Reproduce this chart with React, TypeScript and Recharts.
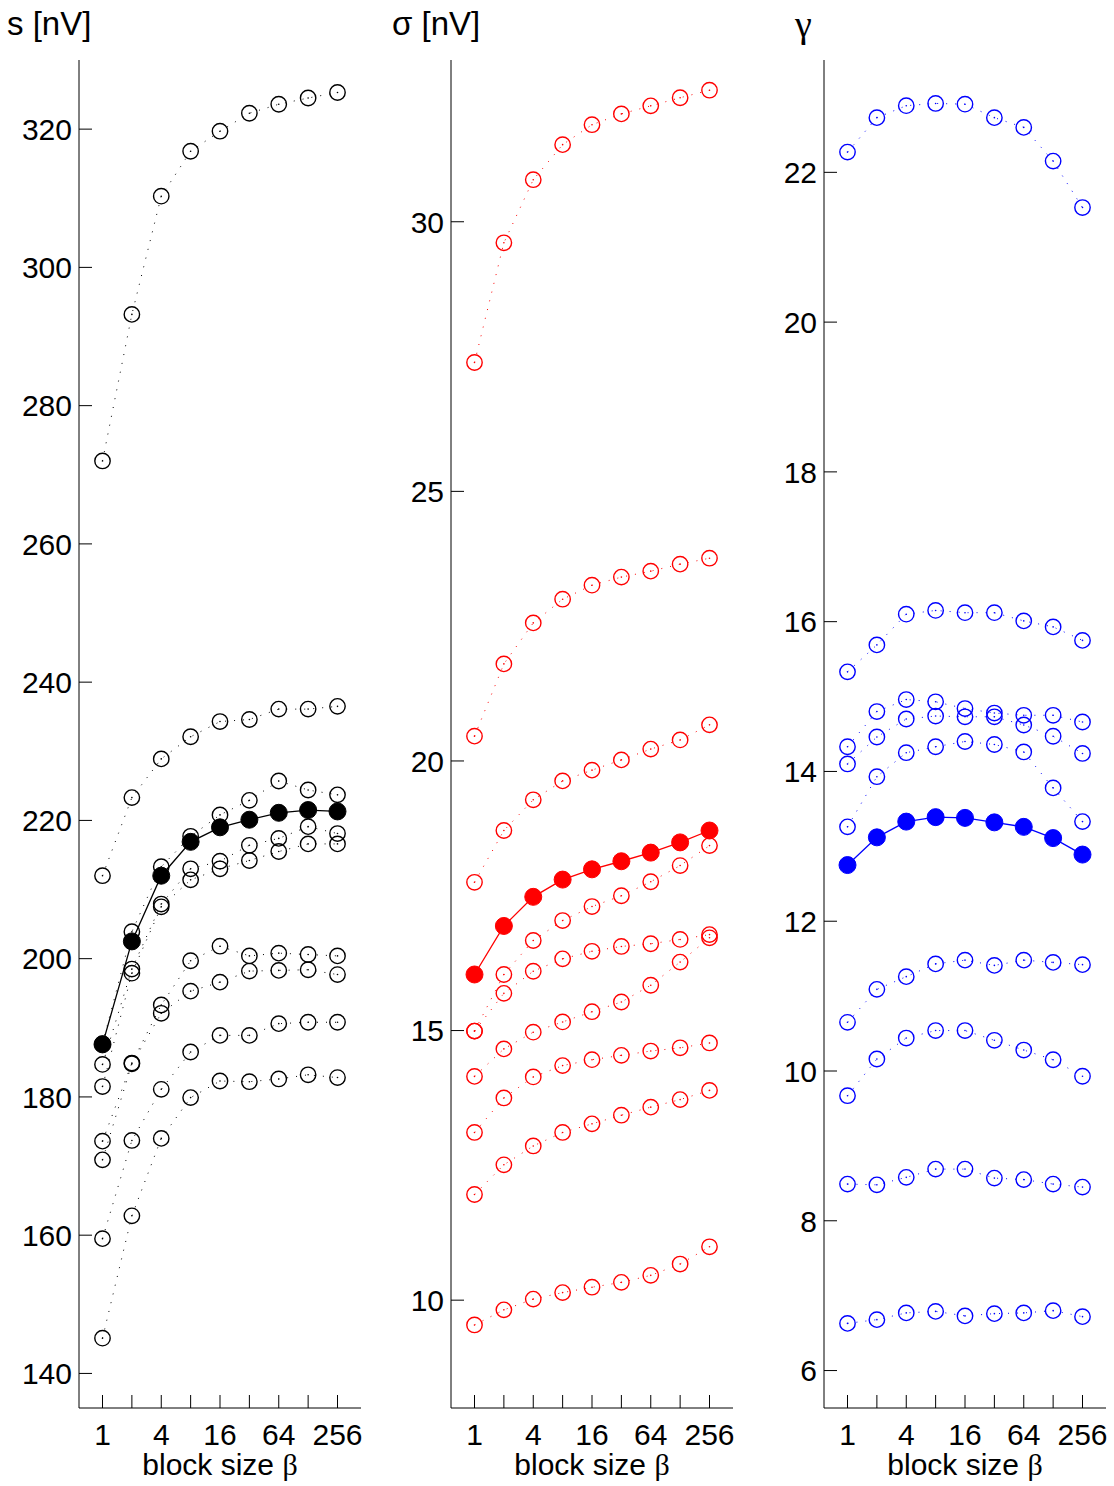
import React from "react";
import { Line, LineChart, XAxis, YAxis } from "recharts";

const FONT = '"Liberation Sans", Arial, Helvetica, sans-serif';
const SERIF = '"Liberation Serif", "DejaVu Serif", serif';
const FONT_SIZE = 30;
const TITLE_SIZE = 33;

const BLOCK_SIZES = [1, 2, 4, 8, 16, 32, 64, 128, 256];
const X_TICK_LABELS = [1, 4, 16, 64, 256];

// s [nV]
const S_TICKS = [140, 160, 180, 200, 220, 240, 260, 280, 300, 320];
const S_RUNS = [
  [272.0, 293.2, 310.3, 316.8, 319.7, 322.3, 323.6, 324.5, 325.3],
  [212.0, 223.3, 228.9, 232.1, 234.3, 234.6, 236.1, 236.1, 236.5],
  [187.7, 203.9, 213.3, 217.7, 220.8, 222.9, 225.7, 224.4, 223.7],
  [184.7, 198.5, 207.9, 213.0, 214.1, 216.4, 217.4, 219.1, 218.1],
  [181.5, 197.9, 207.5, 211.4, 213.0, 214.2, 215.5, 216.6, 216.6],
  [173.6, 184.9, 193.3, 199.7, 201.8, 200.4, 200.8, 200.6, 200.4],
  [170.9, 184.8, 192.1, 195.3, 196.6, 198.2, 198.3, 198.4, 197.7],
  [159.5, 173.7, 181.1, 186.5, 188.9, 188.9, 190.6, 190.8, 190.8],
  [145.1, 162.8, 174.0, 179.9, 182.3, 182.2, 182.6, 183.2, 182.8],
];
const S_MEAN = [187.6, 202.5, 212.0, 216.9, 219.0, 220.1, 221.1, 221.5, 221.3];

// sigma [nV]
const SIGMA_TICKS = [10, 15, 20, 25, 30];
const SIGMA_RUNS = [
  [27.39, 29.61, 30.78, 31.43, 31.8, 32.0, 32.15, 32.3, 32.44],
  [20.46, 21.8, 22.56, 23.0, 23.26, 23.41, 23.52, 23.65, 23.76],
  [17.75, 18.71, 19.28, 19.63, 19.83, 20.02, 20.22, 20.39, 20.67],
  [14.99, 16.04, 16.67, 17.04, 17.3, 17.5, 17.76, 18.06, 18.43],
  [14.99, 15.69, 16.1, 16.33, 16.47, 16.56, 16.61, 16.69, 16.78],
  [14.15, 14.66, 14.97, 15.16, 15.35, 15.53, 15.84, 16.27, 16.72],
  [13.11, 13.75, 14.14, 14.35, 14.46, 14.54, 14.62, 14.68, 14.77],
  [11.96, 12.51, 12.86, 13.11, 13.27, 13.43, 13.58, 13.72, 13.89],
  [9.54, 9.82, 10.02, 10.14, 10.24, 10.33, 10.46, 10.67, 10.99],
];
const SIGMA_MEAN = [16.04, 16.94, 17.48, 17.8, 17.99, 18.14, 18.3, 18.49, 18.71];

// gamma
const GAMMA_TICKS = [6, 8, 10, 12, 14, 16, 18, 20, 22];
const GAMMA_RUNS = [
  [22.27, 22.73, 22.89, 22.92, 22.91, 22.73, 22.6, 22.15, 21.53],
  [15.33, 15.69, 16.1, 16.15, 16.12, 16.12, 16.01, 15.93, 15.75],
  [14.33, 14.8, 14.96, 14.93, 14.84, 14.78, 14.75, 14.75, 14.66],
  [14.1, 14.46, 14.7, 14.74, 14.73, 14.73, 14.62, 14.47, 14.24],
  [13.26, 13.93, 14.25, 14.33, 14.4, 14.36, 14.26, 13.78, 13.33],
  [10.65, 11.09, 11.26, 11.43, 11.48, 11.41, 11.48, 11.45, 11.42],
  [9.67, 10.16, 10.44, 10.54, 10.54, 10.41, 10.28, 10.15, 9.93],
  [8.49, 8.48, 8.58, 8.69, 8.69, 8.57, 8.55, 8.49, 8.45],
  [6.63, 6.68, 6.77, 6.79, 6.73, 6.76, 6.77, 6.8, 6.72],
];
const GAMMA_MEAN = [12.75, 13.12, 13.33, 13.39, 13.38, 13.32, 13.26, 13.11, 12.89];

const PLOT_TOP = 60;
const PLOT_BOTTOM = 1408;
const CHART_H = 1486;
const Y_AXIS_W = 80;
const PLOT_W = 282;
const TICK_LEN = 13;
const Y_LABEL_GAP = 7;

function buildRows(runs: number[][], mean: number[]) {
  return BLOCK_SIZES.map((b, i) => {
    const row: Record<string, number> = { x: Math.log2(b), mean: mean[i] };
    runs.forEach((r, k) => {
      row[`r${k}`] = r[i];
    });
    return row;
  });
}

const YTick = (props: any) => {
  const { x, y, payload } = props;
  const axisX = x + Y_LABEL_GAP;
  return (
    <g>
      <line x1={axisX} x2={axisX + TICK_LEN} y1={y} y2={y} stroke="#000" strokeWidth={1} />
      <text x={x} y={y} dy="0.36em" textAnchor="end" fontFamily={FONT} fontSize={FONT_SIZE} fill="#000">
        {payload.value}
      </text>
    </g>
  );
};

const XTick = (props: any) => {
  const { x, y, payload } = props;
  const b = Math.round(2 ** payload.value);
  return (
    <g>
      <line x1={x} x2={x} y1={y} y2={y - TICK_LEN} stroke="#000" strokeWidth={1} />
      {X_TICK_LABELS.includes(b) && (
        <text x={x} y={y + 37} textAnchor="middle" fontFamily={FONT} fontSize={FONT_SIZE} fill="#000">
          {b}
        </text>
      )}
    </g>
  );
};

function hollowDot(color: string) {
  return (p: any) => (
    <g key={`${p.dataKey}-${p.index}`}>
      <circle cx={p.cx} cy={p.cy} r={7.7} fill="none" stroke={color} strokeWidth={1.4} />
      <circle cx={p.cx} cy={p.cy} r={0.8} fill={color} />
    </g>
  );
}

function filledDot(color: string) {
  return (p: any) => (
    <circle key={`${p.dataKey}-${p.index}`} cx={p.cx} cy={p.cy} r={8.5} fill={color} stroke={color} strokeWidth={1} />
  );
}

type PanelProps = {
  left: number;
  color: string;
  ticks: number[];
  domain: [number, number];
  runs: number[][];
  mean: number[];
};

function Panel({ left, color, ticks, domain, runs, mean }: PanelProps) {
  const rows = buildRows(runs, mean);
  return (
    <div style={{ position: "absolute", left, top: 0 }}>
      <LineChart
        width={Y_AXIS_W + PLOT_W + 8}
        height={CHART_H}
        data={rows}
        margin={{ top: PLOT_TOP, right: 8, bottom: 0, left: 0 }}
      >
        <XAxis
          dataKey="x"
          type="number"
          domain={[-0.8, 8.8]}
          ticks={BLOCK_SIZES.map((b) => Math.log2(b))}
          interval={0}
          tickLine={false}
          tickSize={0}
          tickMargin={0}
          tick={<XTick />}
          axisLine={{ stroke: "#000", strokeWidth: 1 }}
          height={CHART_H - PLOT_BOTTOM}
        />
        <YAxis
          type="number"
          domain={domain}
          ticks={ticks}
          interval={0}
          allowDataOverflow
          tickLine={false}
          tickSize={0}
          tickMargin={Y_LABEL_GAP}
          tick={<YTick />}
          axisLine={{ stroke: "#000", strokeWidth: 1 }}
          width={Y_AXIS_W}
        />
        {runs.map((_, k) => (
          <Line
            key={k}
            dataKey={`r${k}`}
            type="linear"
            stroke={color}
            strokeWidth={1}
            strokeDasharray="1 8"
            dot={hollowDot(color)}
            activeDot={false}
            isAnimationActive={false}
          />
        ))}
        <Line
          dataKey="mean"
          type="linear"
          stroke={color}
          strokeWidth={1.3}
          dot={filledDot(color)}
          activeDot={false}
          isAnimationActive={false}
        />
      </LineChart>
    </div>
  );
}

const textStyle: React.CSSProperties = {
  position: "absolute",
  fontFamily: FONT,
  fontSize: FONT_SIZE,
  lineHeight: `${FONT_SIZE}px`,
  color: "#000",
  whiteSpace: "nowrap",
};

const titleStyle: React.CSSProperties = {
  ...textStyle,
  fontSize: TITLE_SIZE,
  lineHeight: `${TITLE_SIZE}px`,
  top: 7,
};

function XLabel({ plotLeft }: { plotLeft: number }) {
  return (
    <div style={{ ...textStyle, left: plotLeft, width: PLOT_W, top: 1450, textAlign: "center" }}>
      block size <span style={{ fontFamily: SERIF }}>β</span>
    </div>
  );
}

export default function App() {
  return (
    <div style={{ position: "absolute", left: 0, top: 0, width: 1114, height: 1486, background: "#fff" }}>
      <Panel left={-1} color="#000000" ticks={S_TICKS} domain={[135, 330]} runs={S_RUNS} mean={S_MEAN} />
      <Panel left={371} color="#ff0000" ticks={SIGMA_TICKS} domain={[8, 33]} runs={SIGMA_RUNS} mean={SIGMA_MEAN} />
      <Panel left={744} color="#0000ff" ticks={GAMMA_TICKS} domain={[5.5, 23.5]} runs={GAMMA_RUNS} mean={GAMMA_MEAN} />
      <div style={{ ...titleStyle, left: 7 }}>s [nV]</div>
      <div style={{ ...titleStyle, left: 392 }}>σ [nV]</div>
      <div style={{ ...titleStyle, left: 795, top: 5, fontFamily: SERIF, fontSize: 38, lineHeight: "38px" }}>γ</div>
      <XLabel plotLeft={79} />
      <XLabel plotLeft={451} />
      <XLabel plotLeft={824} />
    </div>
  );
}
